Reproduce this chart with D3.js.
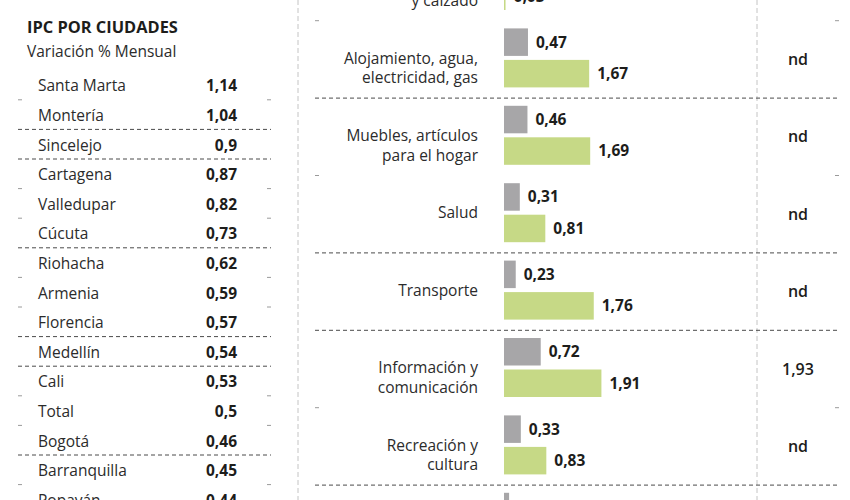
<!DOCTYPE html>
<html>
<head>
<meta charset="utf-8">
<script src="https://cdn.jsdelivr.net/npm/d3@7"></script>
<style>
  body { margin: 0; background: #fff; }
  svg text { font-family: "Open Sans", "Noto Sans", sans-serif; }
</style>
</head>
<body>
<svg id="chart" width="850" height="500"></svg>
<script>
"use strict";

// IPC por ciudades (variación % mensual)
const ciudades = [
    "Santa Marta", "Montería", "Sincelejo", "Cartagena", "Valledupar",
    "Cúcuta", "Riohacha", "Armenia", "Florencia", "Medellín",
    "Cali", "Total", "Bogotá", "Barranquilla", "Popayán"
];
const variacionCiudad = [
    1.14, 1.04, 0.9, 0.87, 0.82, 0.73, 0.62, 0.59, 0.57, 0.54,
    0.53, 0.5, 0.46, 0.45, 0.44
];
// filas tras las cuales la línea punteada cruza todo el ancho
const cortesCiudad = [1, 2, 5, 8, 9, 12];

// divisiones de gasto
const divisiones = [
    "Prendas de vestir\ny calzado",
    "Alojamiento, agua,\nelectricidad, gas",
    "Muebles, artículos\npara el hogar",
    "Salud",
    "Transporte",
    "Información y\ncomunicación",
    "Recreación y\ncultura",
    "Educación"
];
const serieGris = [0.2, 0.47, 0.46, 0.31, 0.23, 0.72, 0.33, 0.1];
const serieVerde = [0.03, 1.67, 1.69, 0.81, 1.76, 1.91, 0.83, 0.5];
const columnaDerecha = ["nd", "nd", "nd", "nd", "nd", "1,93", "nd", "nd"];
// grupos tras los cuales la línea punteada cruza todo el ancho
const cortesDivision = [1, 3, 4, 6];

const fmt = (v) => String(v).replace(".", ",");

const svg = d3.select("#chart");
const INK = "#1d1d1b";
const DASH = "#4a4a4a";

// vertical dotted guides
const guides = [298, 757];
svg.append("g")
    .selectAll("line")
    .data(guides)
    .enter()
    .append("line")
    .attr("x1", (d) => d)
    .attr("x2", (d) => d)
    .attr("y1", 0)
    .attr("y2", 500)
    .attr("stroke", "#c4c4c4")
    .attr("stroke-width", 1)
    .attr("stroke-dasharray", "5,3");

/* ---------- left panel ---------- */
const left = svg.append("g");

left.append("text")
    .attr("x", 27)
    .attr("y", 33)
    .attr("font-size", 16.4)
    .attr("font-weight", 700)
    .attr("fill", INK)
    .text("IPC POR CIUDADES");

left.append("text")
    .attr("x", 27)
    .attr("y", 57)
    .attr("font-size", 15.5)
    .attr("fill", "#2b2b2b")
    .text("Variación % Mensual");

const yCity = d3.scalePoint()
    .domain(ciudades)
    .range([86, 86 + 29.6 * (ciudades.length - 1)]);
const step = yCity.step();

const rows = left.append("g")
    .selectAll("g")
    .data(ciudades.map((c, i) => ({ c, v: variacionCiudad[i], i })))
    .enter()
    .append("g")
    .attr("transform", (d) => `translate(0,${yCity(d.c)})`);

rows.append("text")
    .attr("x", 38)
    .attr("dy", "0.35em")
    .attr("font-size", 15.5)
    .attr("fill", "#2b2b2b")
    .text((d) => d.c);

rows.append("text")
    .attr("x", 237)
    .attr("dy", "0.35em")
    .attr("text-anchor", "end")
    .attr("font-size", 15.5)
    .attr("font-weight", 700)
    .attr("fill", INK)
    .text((d) => fmt(d.v));

const citySeps = d3.range(ciudades.length - 1).map((i) => ({
    y: yCity(ciudades[i]) + step / 2 - 1,
    full: cortesCiudad.includes(i)
}));
drawSeparators(left, citySeps, 18, 271);

/* ---------- middle panel ---------- */
const mid = svg.append("g");

const yDiv = d3.scalePoint()
    .domain(divisiones)
    .range([-19.5, -19.5 + 77.4 * (divisiones.length - 1)]);
const x = d3.scaleLinear().domain([0, 2]).range([504, 606]);
const barH = 27.5;

const groups = mid.append("g")
    .selectAll("g")
    .data(divisiones.map((d, i) => ({
        label: d,
        gris: serieGris[i],
        verde: serieVerde[i],
        derecha: columnaDerecha[i]
    })))
    .enter()
    .append("g")
    .attr("transform", (d) => `translate(0,${yDiv(d.label)})`);

groups.each(function(d) {
    const g = d3.select(this);
    const lines = d.label.split("\n");
    g.selectAll("text.lbl")
        .data(lines)
        .enter()
        .append("text")
        .attr("class", "lbl")
        .attr("x", 478)
        .attr("y", (l, j) => (lines.length > 1 ? 0.5 + j * 19.5 : 0))
        .attr("dy", "0.35em")
        .attr("text-anchor", "end")
        .attr("font-size", 15.5)
        .attr("fill", "#2b2b2b")
        .text((l) => l);
});

groups.append("rect")
    .attr("x", x(0))
    .attr("y", -29.5)
    .attr("width", (d) => x(d.gris) - x(0))
    .attr("height", barH)
    .attr("fill", "#a7a6a8");

groups.append("rect")
    .attr("x", x(0))
    .attr("y", 2)
    .attr("width", (d) => x(d.verde) - x(0))
    .attr("height", barH)
    .attr("fill", "#c6d986");

groups.append("text")
    .attr("x", (d) => x(d.gris) + 8)
    .attr("y", -29.5 + barH / 2)
    .attr("dy", "0.35em")
    .attr("font-size", 15.5)
    .attr("font-weight", 700)
    .attr("fill", INK)
    .text((d) => fmt(d.gris));

groups.append("text")
    .attr("x", (d) => x(d.verde) + 8)
    .attr("y", 2 + barH / 2)
    .attr("dy", "0.35em")
    .attr("font-size", 15.5)
    .attr("font-weight", 700)
    .attr("fill", INK)
    .text((d) => fmt(d.verde));

groups.append("text")
    .attr("x", 798)
    .attr("y", 1.5)
    .attr("dy", "0.35em")
    .attr("text-anchor", "middle")
    .attr("font-size", 16)
    .attr("font-weight", 600)
    .attr("fill", INK)
    .text((d) => d.derecha);

const divSeps = d3.range(divisiones.length - 1).map((i) => ({
    y: (yDiv(divisiones[i]) + yDiv(divisiones[i + 1])) / 2 + 1.5,
    full: cortesDivision.includes(i)
}));
drawSeparators(mid, divSeps, 315, 839);

/**
 * Draws a dashed separator across [x0, x1] or only two small stubs at its ends.
 */
function drawSeparators(parent, seps, x0, x1) {
    const g = parent.append("g");
    seps.forEach((s) => {
        if (s.full) {
            g.append("line")
                .attr("x1", x0).attr("x2", x1)
                .attr("y1", s.y).attr("y2", s.y)
                .attr("stroke", DASH)
                .attr("stroke-width", 1)
                .attr("stroke-dasharray", "4,3");
        } else {
            [x0, x1 - 4].forEach((xx) => {
                g.append("line")
                    .attr("x1", xx).attr("x2", xx + 4)
                    .attr("y1", s.y).attr("y2", s.y)
                    .attr("stroke", "#9a9a9a")
                    .attr("stroke-width", 1);
            });
        }
    });
}
</script>
</body>
</html>
